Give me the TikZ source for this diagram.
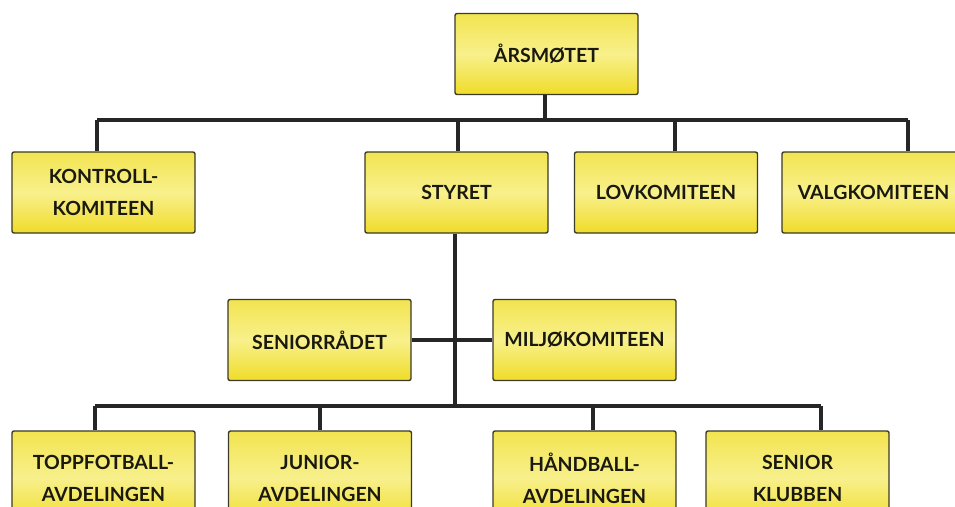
\documentclass[tikz,border=0pt]{standalone}
\usepackage{fontspec}
\setmainfont{Lato}
\definecolor{boxedge}{RGB}{60,58,40}
\definecolor{boxtop}{RGB}{242,228,80}
\definecolor{boxmid}{RGB}{248,240,140}
\definecolor{boxbot}{RGB}{240,220,40}
\definecolor{connc}{RGB}{38,38,38}
\definecolor{txtc}{RGB}{25,25,15}
\begin{document}
\begin{tikzpicture}[x=1pt,y=-1pt,
  box/.style={draw=boxedge, line width=1.4pt, rounded corners=2pt,
    top color=boxtop, bottom color=boxbot, middle color=boxmid,
    minimum width=183pt, minimum height=81pt, inner sep=0pt, align=center,
    text=txtc, font=\fontsize{19.5}{32}\selectfont\bfseries},
  conn/.style={draw=connc, line width=3.2pt}]
\clip (0,0) rectangle (955,506);
\fill[white] (0,0) rectangle (955,506);
% boxes
\node[box] (ars) at (546.5,54) {ÅRSMØTET};
\node[box] (kontroll) at (103.5,192.5) {KONTROLL-\\KOMITEEN};
\node[box] (styret) at (456.5,192.5) {STYRET};
\node[box] (lov) at (666,192.5) {LOVKOMITEEN};
\node[box] (valg) at (873.5,192.5) {VALGKOMITEEN};
\node[box] (seniorr) at (319.5,340) {SENIORRÅDET};
\node[box] (miljo) at (584.5,340) {MILJØKOMITEEN};
\node[box, minimum height=94pt] (topp) at (103.5,478) {TOPPFOTBALL-\\AVDELINGEN};
\node[box, minimum height=94pt] (junior) at (320,478) {JUNIOR-\\AVDELINGEN};
\node[box, minimum height=94pt] (hand) at (584.5,478) {HÅNDBALL-\\AVDELINGEN};
\node[box, minimum height=94pt] (senkl) at (797.5,478) {SENIOR\\KLUBBEN};
% top bus
\coordinate (tl) at (97,120);
\coordinate (tr) at (908,120);
\coordinate (ts) at (458,120);
\coordinate (tlov) at (675,120);
\coordinate (tars) at (545,120);
\draw[conn] (tars |- ars.south) -- (tars);
\draw[conn] (tl) -- (tr);
\draw[conn] (tl) -- (tl |- kontroll.north);
\draw[conn] (ts) -- (ts |- styret.north);
\draw[conn] (tlov) -- (tlov |- lov.north);
\draw[conn] (tr) -- (tr |- valg.north);
% middle
\coordinate (mv) at (455,406);
\draw[conn] (mv |- styret.south) -- (mv);
\draw[conn] (seniorr.east) -- (miljo.west);
% bottom bus
\coordinate (b1) at (95,406);
\coordinate (b2) at (320,406);
\coordinate (b3) at (593,406);
\coordinate (b4) at (821,406);
\draw[conn] (b1) -- (b4);
\draw[conn] (b1) -- (b1 |- topp.north);
\draw[conn] (b2) -- (b2 |- junior.north);
\draw[conn] (b3) -- (b3 |- hand.north);
\draw[conn] (b4) -- (b4 |- senkl.north);
\end{tikzpicture}
\end{document}
